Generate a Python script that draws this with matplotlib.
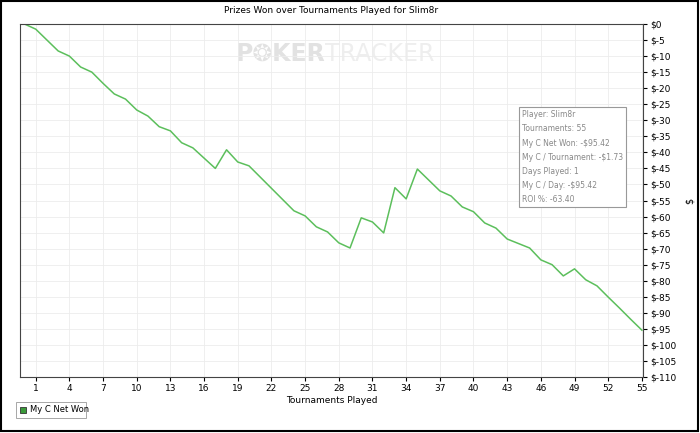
import matplotlib.pyplot as plt
from matplotlib.patches import Rectangle

tournaments = list(range(0, 56))
net_won = [0, -1.6, -5, -8.4, -10, -13.4, -15, -18.5, -21.8, -23.4,
           -26.8, -28.7, -32, -33.3, -37, -38.6, -41.8, -45, -39.2, -43,
           -44.2, -47.7, -51.2, -54.7, -58.2, -59.8, -63.2, -64.8, -68.2, -69.8,
           -60.4, -61.7, -65.1, -51, -54.5, -45.2, -48.6, -52, -53.6, -57,
           -58.5, -62, -63.6, -67, -68.4, -69.8, -73.5, -75, -78.5, -76.3,
           -79.7, -81.6, -85.1, -88.5, -92, -95.4]
x_ticks = list(range(1, 56, 3))
y_ticks = list(range(0, -111, -5))
tooltip = ["Player: Slim8r", "Tournaments: 55", "My C Net Won: -$95.42",
           "My C / Tournament: -$1.73", "Days Played: 1",
           "My C / Day: -$95.42", "ROI %: -63.40"]

W, H = 700, 433
fig = plt.figure(figsize=(7, 4.33), dpi=100)
ax = fig.add_axes([20 / W, 1 - 377 / H, 623 / W, 353 / H])

ax.plot(tournaments, net_won, color="#5cbf5c", lw=1.1)
ax.set_xlim(-0.4, 55.1)
ax.set_ylim(-110, 0)
ax.set_xticks(x_ticks)
ax.set_xticklabels([str(t) for t in x_ticks], fontsize=6.5)
ax.set_yticks(y_ticks)
ax.set_yticklabels([f"$-{-v}" if v else "$0" for v in y_ticks], fontsize=6.5)
ax.yaxis.tick_right()
ax.yaxis.set_label_position("right")
ax.set_ylabel("$", fontsize=7, labelpad=6)
ax.set_xlabel("Tournaments Played", fontsize=6.5, labelpad=2)
ax.tick_params(length=3, pad=2)
ax.grid(True, color="#ececec", lw=0.6)
for s in ax.spines.values():
    s.set_color("#444444")
ax.set_axisbelow(True)

ax.set_title("Prizes Won over Tournaments Played for Slim8r", fontsize=6.5, pad=8)
ax.text(0.49, 0.915, "P\u2742KER", transform=ax.transAxes, ha="right",
        va="center", fontsize=17, color="#e2e2e2", fontweight="bold", zorder=0)
ax.text(0.49, 0.915, "TRACKER", transform=ax.transAxes, ha="left",
        va="center", fontsize=17, color="#eeeeee", zorder=0)

# tooltip box
fig.text(522 / W, 1 - 110 / H, "\n".join(tooltip), fontsize=5.5, color="#888888",
         va="top", ha="left", linespacing=1.75,
         bbox=dict(boxstyle="square,pad=0.35", fc="white", ec="#999999", lw=0.8))

# legend
fig.patches.append(Rectangle((20 / W, 1 - 413 / H), 6 / W, 6 / H,
                             transform=fig.transFigure, fc="#3a9a3a", ec="#333333", lw=0.6))
fig.text(30 / W, 1 - 410 / H, "My C Net Won", fontsize=6, va="center")
fig.patches.append(Rectangle((16 / W, 1 - 418 / H), 70 / W, 16 / H,
                             transform=fig.transFigure, fill=False, ec="#999999", lw=0.6))
# outer frame
fig.patches.append(Rectangle((0.002, 0.004), 0.995, 0.994, transform=fig.transFigure,
                             fill=False, ec="black", lw=1.5))

fig.savefig("out.png", dpi=100)
